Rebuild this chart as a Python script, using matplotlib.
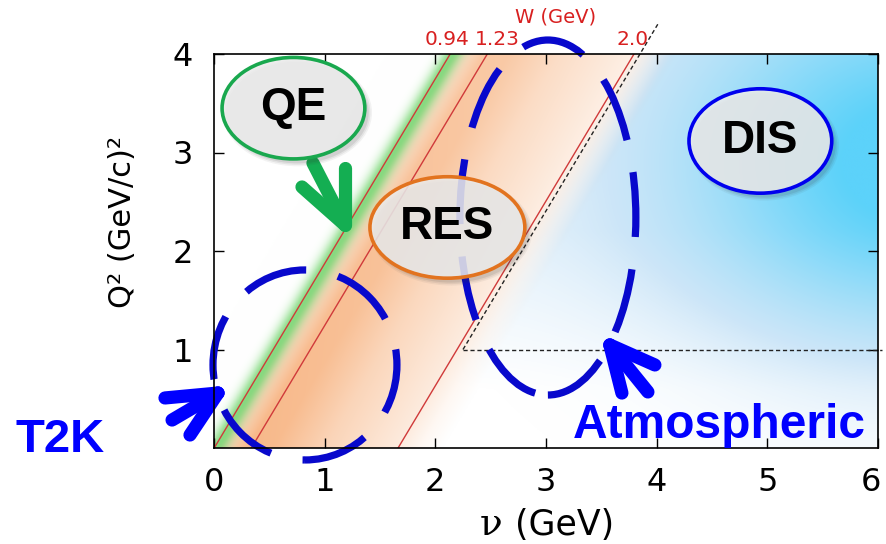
import numpy as np
import matplotlib
matplotlib.use("Agg")
import matplotlib.pyplot as plt
import matplotlib.transforms as mtransforms
from matplotlib.patches import Ellipse
from matplotlib.colors import LinearSegmentedColormap

# ---- data -------------------------------------------------------------
M_N = 0.938                      # nucleon mass (GeV)
W_values = [0.94, 1.23, 2.0]     # invariant-mass contours (GeV)
W_labels = ["0.94", "1.23", "2.0"]
x_ticks = [0, 1, 2, 3, 4, 5, 6]
x_tick_labels = ["0", "1", "2", "3", "4", "5", "6"]
y_ticks = [1, 2, 3, 4]
y_tick_labels = ["1", "2", "3", "4"]
dis_q2_cut = 1.0                 # Q^2 > 1 (GeV/c)^2
dis_nu_start = 2.25
dis_nu_end = 4.01

# ---- annotation layout (data units) -----------------------------------
bubble_names = ["QE", "RES", "DIS"]
bubble_centers = [(0.718, 3.45), (2.109, 2.239), (4.937, 3.117)]
bubble_sizes = [(1.29, 1.03), (1.40, 1.03), (1.29, 1.06)]
bubble_edges = ["#19a84e", "#e2731f", "#0000ee"]

region_names = ["T2K", "Atmospheric"]
region_centers = [(0.822, 0.843), (3.017, 2.340)]
region_sizes = [(1.662, 1.929), (1.590, 3.604)]

# chevron arrows: tip followed by the ends of the three strokes
arrows = [
    ((0.036, 0.558), [(-0.443, 0.508), (-0.379, 0.284), (-0.217, 0.132)], "#0000ff"),
    ((3.577, 1.046), [(3.984, 0.843), (3.921, 0.569), (3.686, 0.558)], "#0000ff"),
    ((1.183, 2.264), [(1.183, 2.843), (0.894, 2.893), (0.795, 2.650)], "#14ae52"),
]


def nu_of(W, q2):
    """Energy transfer on a constant-W contour."""
    return (q2 + W ** 2 - M_N ** 2) / (2 * M_N)


# ---- figure -----------------------------------------------------------
W_PX, H_PX = 886, 544
fig = plt.figure(figsize=(W_PX / 100, H_PX / 100), dpi=100)
ax = fig.add_axes([214 / W_PX, 1 - 448 / H_PX, (878 - 214) / W_PX, (448 - 54) / H_PX])

# background shading for the interaction regions
nu = np.linspace(0, 6, 900)
q2 = np.linspace(0, 4, 600)
NU, Q2 = np.meshgrid(nu, q2)
d0 = NU - nu_of(W_values[0], Q2)
d2 = NU - nu_of(W_values[2], Q2)
span = nu_of(W_values[2], 0) - nu_of(W_values[0], 0)
t = d0 / span

blue_cmap = LinearSegmentedColormap.from_list(
    "dis", [(0.0, (1, 1, 1)), (0.25, (205 / 255, 230 / 255, 248 / 255)),
            (1.0, (92 / 255, 210 / 255, 250 / 255))])
ib = np.exp(-((NU - 6.4) / 2.0) ** 2 - ((Q2 - 2.9) / 1.7) ** 2)
ib = np.clip(ib + 0.12 * np.clip((Q2 - 0.6) / 1.6, 0, 1), 0, 1)
ib *= np.clip(d2 / 0.35, 0, 1)
rgb = blue_cmap(ib)[..., :3]

orange = np.array([246, 168, 110]) / 255
prof = np.interp(t, [0.0, 0.04, 0.18, 0.32, 0.6, 1.0, 1.12, 1.24],
                 [0.0, 0.45, 0.95, 0.92, 0.58, 0.27, 0.1, 0.0])
ao = (0.85 * prof * (1 - 0.22 * Q2 / 4))[..., None]
rgb = rgb * (1 - ao) + orange * ao

green = np.array([105, 210, 100]) / 255
ag = (0.8 * np.exp(-((d0 - 0.02) / 0.1) ** 2))[..., None]
rgb = rgb * (1 - ag) + green * ag

ax.imshow(rgb, extent=[0, 6, 0, 4], origin="lower", aspect="auto",
          interpolation="bilinear", zorder=0)

# constant-W lines
q_edge = np.array([0.0, 4.0])
for W in W_values:
    ax.plot(nu_of(W, q_edge), q_edge, color="#d03a3a", lw=1.0, zorder=2)

# DIS cut lines
q_dis = np.array([dis_q2_cut, dis_q2_cut + 2 * M_N * (dis_nu_end - dis_nu_start)])
ax.plot([dis_nu_start, dis_nu_end], q_dis, color="#222222", lw=1.0,
        ls=(0, (3, 2)), clip_on=False, zorder=3)
ax.plot([dis_nu_start, 6.04], [dis_q2_cut, dis_q2_cut], color="#222222", lw=1.0,
        ls=(0, (3, 2)), clip_on=False, zorder=3)

# W labels on top
label_dx = [-2, 7, -1]
for W, lab, dx in zip(W_values, W_labels, label_dx):
    ax.annotate(lab, xy=(nu_of(W, 4.0), 4.0), xytext=(dx, 3.5),
                textcoords="offset points", ha="center", va="bottom",
                color="#d82020", fontsize=14.5, annotation_clip=False)
fig.text(556 / W_PX, 1 - 17 / H_PX, "W (GeV)", ha="center", va="center",
         color="#d82020", fontsize=14)

# dashed experiment regions
for c, (w, h) in zip(region_centers, region_sizes):
    ax.add_patch(Ellipse(c, w, h, fill=False, ec="#0808cc", lw=5.2,
                         ls=(0, (9, 4.5)), clip_on=False, zorder=4))

# arrows
for tip, ends, col in arrows:
    for e in ends:
        ax.plot([e[0], tip[0]], [e[1], tip[1]], color=col, lw=9.5,
                solid_capstyle="round", clip_on=False, zorder=5)

# region bubbles with soft shadow
for name, c, (w, h), ec in zip(bubble_names, bubble_centers, bubble_sizes, bubble_edges):
    for k, a in enumerate([0.10, 0.08, 0.06]):
        ax.add_patch(Ellipse((c[0] + 0.035, c[1] - 0.045), w + 0.03 * k, h + 0.03 * k,
                             fc=(0.2, 0.2, 0.2, a), ec="none", clip_on=False, zorder=5.5))
    ax.add_patch(Ellipse(c, w, h, fc=(0.925, 0.925, 0.925, 0.86), ec=ec, lw=2.6,
                         clip_on=False, zorder=6))
    ax.text(c[0], c[1], name, ha="center", va="center", fontsize=33,
            fontweight="bold", family="Liberation Sans", color="black", zorder=7)

# region names
fig.text(15 / W_PX, 1 - 452 / H_PX, region_names[0], ha="left", va="baseline",
         fontsize=34, fontweight="bold", family="Liberation Sans", color="#0000ff")
fig.text(573 / W_PX, 1 - 438 / H_PX, region_names[1], ha="left", va="baseline",
         fontsize=34.5, fontweight="bold", family="Liberation Sans", color="#0000ff",
         zorder=8)

# axes styling
ax.set_xlim(0, 6)
ax.set_ylim(0, 4)
ax.set_xticks(x_ticks, x_tick_labels)
ax.set_yticks(y_ticks, y_tick_labels)
ax.tick_params(direction="in", length=7, width=1, top=True, right=True,
               labelsize=23, colors="black")
ax.tick_params(axis="x", pad=14)
ax.tick_params(axis="y", pad=15)
for sp in ax.spines.values():
    sp.set_linewidth(1.2)
    sp.set_zorder(9)

# nudge the last x label inwards so it stays on the canvas
last = ax.get_xticklabels()[-1]
last.set_transform(last.get_transform() +
                   mtransforms.ScaledTranslation(-7 / 100, 0, fig.dpi_scale_trans))

# axis titles
fig.text(123 / W_PX, 1 - 222 / H_PX, "Q² (GeV/c)²", rotation=90, ha="center",
         va="center", fontsize=22)
fig.text(491 / W_PX, 1 - 535 / H_PX, "ν", ha="center", va="baseline",
         fontsize=27, family="DejaVu Serif")
fig.text(515 / W_PX, 1 - 535 / H_PX, "(GeV)", ha="left", va="baseline", fontsize=25)

fig.savefig("out.png", dpi=100)
